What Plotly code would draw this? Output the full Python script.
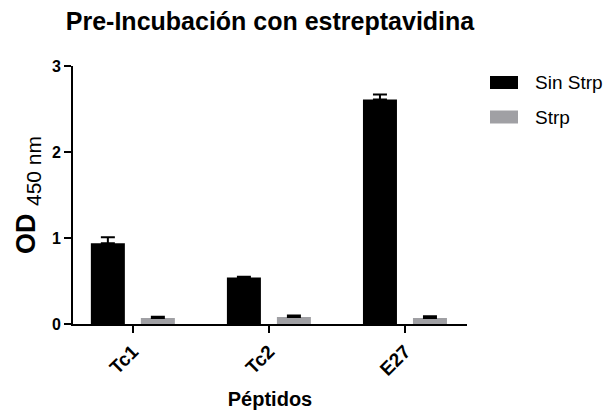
import plotly.graph_objects as go

categories = ["Tc1", "Tc2", "E27"]
series_names = ["Sin Strp", "Strp"]
sin_strp = [0.94, 0.54, 2.61]
sin_strp_err = [0.07, 0.01, 0.06]
strp = [0.07, 0.08, 0.07]
strp_err = [0.015, 0.02, 0.02]
y_ticks = [0, 1, 2, 3]

colors = ["#000000", "#a0a0a4"]
FONT = "Liberation Sans, Arial, Helvetica, sans-serif"

# plot area in pixels
L, R, T, B = 73, 467, 66, 324
W, H = 610, 410

fig = go.Figure()
for name, vals, errs, col in [
    (series_names[0], sin_strp, sin_strp_err, colors[0]),
    (series_names[1], strp, strp_err, colors[1]),
]:
    fig.add_trace(go.Bar(
        x=categories, y=vals, name=name,
        marker=dict(color=col, line=dict(width=0)),
        error_y=dict(type="data", array=errs, arrayminus=[0] * len(errs),
                     symmetric=False, color="#000000", thickness=2, width=7),
        showlegend=False,
    ))

def px_x(p):
    return (p - L) / (R - L)

def px_y(p):
    return (B - p) / (B - T)

# custom legend
legend_rows = [(82.5, series_names[0], colors[0]), (117, series_names[1], colors[1])]
for yc, name, col in legend_rows:
    fig.add_shape(type="rect", xref="paper", yref="paper",
                  x0=px_x(490), x1=px_x(518), y0=px_y(yc + 6.5), y1=px_y(yc - 6.5),
                  fillcolor=col, line=dict(width=0))
    fig.add_annotation(xref="paper", yref="paper", x=px_x(533), y=px_y(yc),
                       xanchor="left", yanchor="middle", showarrow=False,
                       text=name, font=dict(family=FONT, size=19, color="#000000"))

fig.update_layout(
    width=W, height=H,
    margin=dict(l=L, r=W - R, t=T, b=H - B, pad=0),
    paper_bgcolor="white", plot_bgcolor="white",
    barmode="group", bargap=0.265, bargroupgap=0.32,
    title=dict(text="<b>Pre-Incubación con estreptavidina</b>",
               x=(270) / W, xanchor="center", y=1 - 21 / H, yanchor="middle",
               font=dict(family=FONT, size=25, color="#000000")),
    font=dict(family=FONT, color="#000000"),
    xaxis=dict(
        range=[-0.44, 2.456], showgrid=False, zeroline=False, automargin=False,
        showline=True, linecolor="#000000", linewidth=2,
        ticks="outside", ticklen=7, tickwidth=2, tickcolor="#000000",
        tickangle=-45, tickfont=dict(family=FONT, size=19, color="#000000", weight="bold"),
        title=dict(text="<b>Péptidos</b>", font=dict(family=FONT, size=20, color="#000000"),
                   standoff=16),
    ),
    yaxis=dict(
        range=[0, 3], tickvals=y_ticks, ticktext=[str(v) for v in y_ticks],
        showgrid=False, zeroline=False, automargin=False,
        showline=True, linecolor="#000000", linewidth=2,
        ticks="outside", ticklen=7, tickwidth=2, tickcolor="#000000",
        tickfont=dict(family=FONT, size=16, color="#000000", weight="bold"),
        title=dict(text="<b>OD</b> <sub><span style='font-size:21px'>450 nm</span></sub>",
                   font=dict(family=FONT, size=27, color="#000000"), standoff=8),
    ),
)

fig.write_html("out.html")
